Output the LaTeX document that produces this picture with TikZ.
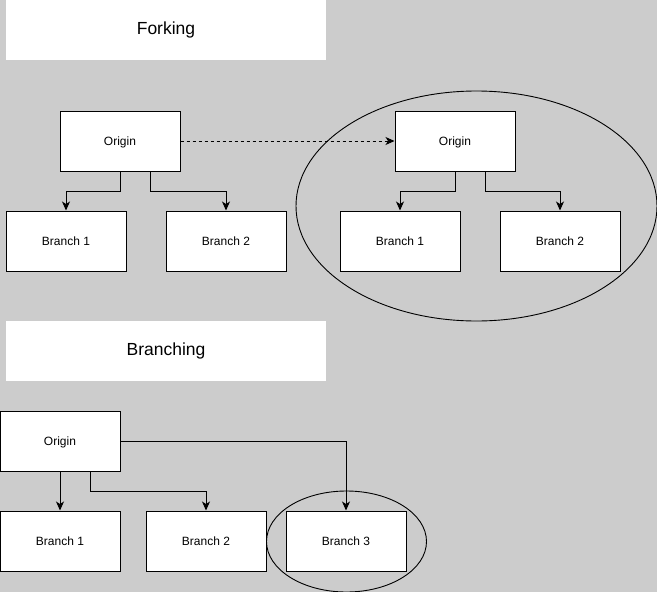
\documentclass[tikz,border=0pt]{standalone}
\usepackage{fontspec}
\setmainfont{Liberation Sans}
\usetikzlibrary{arrows.meta,shapes.geometric}
\definecolor{bg}{HTML}{CCCCCC}
\tikzset{
  x=1pt,y=-1pt,
  box/.style={draw=black,fill=white,line width=1pt,minimum width=120pt,minimum height=60pt,inner sep=0pt,text depth=0pt,font=\fontsize{12}{14}\selectfont},
  title/.style={fill=white,minimum width=320pt,minimum height=60pt,inner sep=0pt,font=\fontsize{17.5}{20}\selectfont},
  conn/.style={line width=1pt,-{Stealth[length=9pt,width=8pt,inset=2.5pt]}},
  ring/.style={draw=black,line width=0.9pt,ellipse,inner sep=0pt},
}
\begin{document}
\begin{tikzpicture}
\fill[bg] (0,0) rectangle (657,592);
\useasboundingbox (0,0) rectangle (657,592);
% titles
\node[title] (t1) at (166,30) {Forking};
\node[title] (t2) at (166,351) {Branching};
% forking left
\node[box] (o1) at (120,141) {Origin};
\node[box] (a1) at (66,241) {Branch 1};
\node[box] (a2) at (226,241) {Branch 2};
% forking right
\node[ring,minimum width=361pt,minimum height=230pt] (e1) at (476.5,206) {};
\node[box] (o2) at (455,141) {Origin};
\node[box] (b1) at (400,241) {Branch 1};
\node[box] (b2) at (560,241) {Branch 2};
% branching
\node[ring,minimum width=160pt,minimum height=101pt] (e2) at (346.5,541.5) {};
\node[box] (o3) at (60,441) {Origin};
\node[box] (c1) at (60,541) {Branch 1};
\node[box] (c2) at (206,541) {Branch 2};
\node[box] (c3) at (346,541) {Branch 3};
% connectors
\draw[conn] (o1.south) -- ++(0,20) -| (a1.north);
\draw[conn] ([xshift=30pt]o1.south) -- ++(0,20) -| (a2.north);
\draw[conn,dash pattern=on 3pt off 3pt] (o1.east) -- (o2.west);
\draw[conn] (o2.south) -- ++(0,20) -| (b1.north);
\draw[conn] ([xshift=30pt]o2.south) -- ++(0,20) -| (b2.north);
\draw[conn] (o3.south) -- (c1.north);
\draw[conn] ([xshift=30pt]o3.south) -- ++(0,20) -| (c2.north);
\draw[conn] (o3.east) -| (c3.north);
\end{tikzpicture}
\end{document}
